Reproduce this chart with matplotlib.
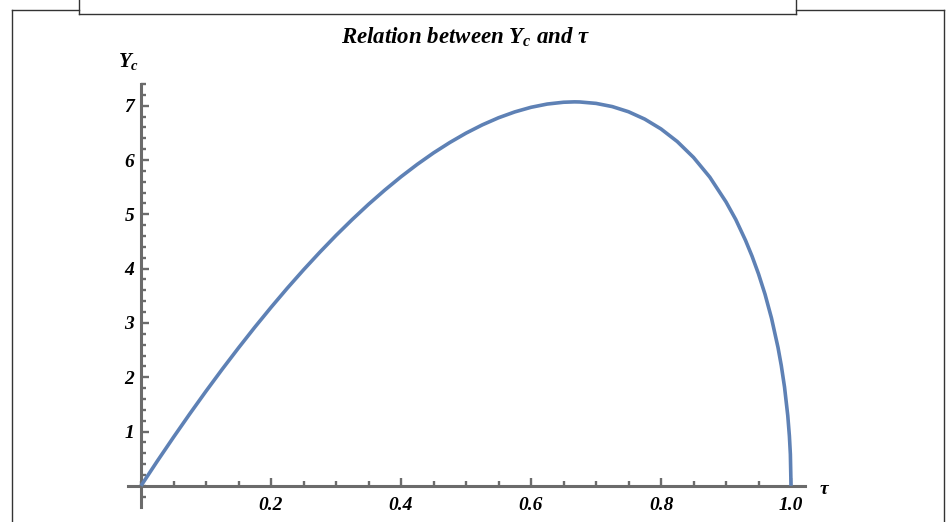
import matplotlib
matplotlib.use("Agg")
import matplotlib.pyplot as plt
from matplotlib.lines import Line2D
from matplotlib.ticker import FixedLocator, MultipleLocator

# values
tau = [0.0, 0.025, 0.05, 0.075, 0.1, 0.125, 0.15, 0.175, 0.2, 0.225, 0.25,
       0.275, 0.3, 0.325, 0.35, 0.375, 0.4, 0.425, 0.45, 0.475, 0.5, 0.525,
       0.55, 0.575, 0.6, 0.625, 0.65, 0.667, 0.675, 0.7, 0.725, 0.75, 0.775,
       0.8, 0.825, 0.85, 0.875, 0.9, 0.915, 0.93, 0.94, 0.95, 0.96, 0.97,
       0.98, 0.985, 0.99, 0.995, 0.9975, 0.999, 1.0]
yc = [0.0, 0.454, 0.895, 1.325, 1.743, 2.148, 2.540, 2.920, 3.286, 3.639,
      3.977, 4.301, 4.611, 4.905, 5.184, 5.446, 5.692, 5.920, 6.131, 6.322,
      6.495, 6.647, 6.778, 6.886, 6.971, 7.031, 7.064, 7.071, 7.069, 7.043,
      6.984, 6.889, 6.753, 6.572, 6.340, 6.048, 5.685, 5.228, 4.904, 4.520,
      4.230, 3.902, 3.528, 3.086, 2.546, 2.216, 1.819, 1.292, 0.916, 0.580,
      0.0]

x_major = [0.2, 0.4, 0.6, 0.8, 1.0]
x_labels = ["0.2", "0.4", "0.6", "0.8", "1.0"]
y_major = [1, 2, 3, 4, 5, 6, 7]
y_labels = ["1", "2", "3", "4", "5", "6", "7"]

serif = "Liberation Serif"
plt.rcParams["mathtext.fontset"] = "custom"
plt.rcParams["mathtext.it"] = "Liberation Serif:italic:bold"
plt.rcParams["mathtext.rm"] = "Liberation Serif:italic:bold"
plt.rcParams["mathtext.bf"] = "Liberation Serif:italic:bold"

W, H = 952, 522
fig = plt.figure(figsize=(W / 100, H / 100), dpi=100)
fig.patch.set_facecolor("white")


def fx(px):
    return px / W


def fy(py):
    return 1 - py / H


# page frame lines
frame_col = "#333333"
segments = [
    ([12, 12], [10, 522]),
    ([12, 79], [10, 10]),
    ([796, 944], [10, 10]),
    ([944, 944], [10, 522]),
    ([79, 79], [0, 14]),
    ([79, 796], [14, 14]),
    ([796, 796], [0, 14]),
]
for xs, ys in segments:
    fig.add_artist(Line2D([fx(v) for v in xs], [fy(v) for v in ys],
                          transform=fig.transFigure, color=frame_col, lw=1.0))

ax = fig.add_axes([fx(128), fy(507), fx(805) - fx(128), fy(84) - fy(507)])
ax.plot(tau, yc, color="#5E81B5", lw=2.6, solid_capstyle="butt",
        solid_joinstyle="round", zorder=3)

ax.set_xlim(-0.02, 1.0215)
ax.set_ylim(-0.39, 7.40)

axis_col = "#6b6b6b"
for side in ["top", "right"]:
    ax.spines[side].set_visible(False)
for side in ["left", "bottom"]:
    ax.spines[side].set_position(("data", 0))
    ax.spines[side].set_color(axis_col)
    ax.spines[side].set_linewidth(2.2)

ax.xaxis.set_major_locator(FixedLocator(x_major))
ax.xaxis.set_minor_locator(MultipleLocator(0.05))
ax.yaxis.set_major_locator(FixedLocator(y_major))
ax.yaxis.set_minor_locator(MultipleLocator(0.2))
ax.set_xticklabels(x_labels)
ax.set_yticklabels(y_labels)

ax.tick_params(which="both", direction="in", color=axis_col, width=1.7)
ax.tick_params(which="major", length=6.0)
ax.tick_params(which="minor", length=3.5)
ax.tick_params(axis="x", which="major", pad=8.0)
ax.tick_params(axis="y", which="major", pad=5.0)
for lab in ax.get_xticklabels() + ax.get_yticklabels():
    lab.set_fontfamily(serif)
    lab.set_fontstyle("italic")
    lab.set_fontweight("bold")
    lab.set_fontsize(14)
    lab.set_color("black")

ax.patch.set_visible(False)

fig.text(fx(129), fy(62), "$Y_c$", ha="center", va="center", fontsize=15)
fig.text(fx(824), fy(489), "τ", ha="center", va="center", fontsize=14,
         family=serif, style="italic", weight="bold")
fig.text(fx(466), fy(37), "Relation between $Y_c$ and τ", ha="center",
         va="center", fontsize=16.5, family=serif, style="italic",
         weight="bold")

fig.savefig("out.png", dpi=100, facecolor="white")
